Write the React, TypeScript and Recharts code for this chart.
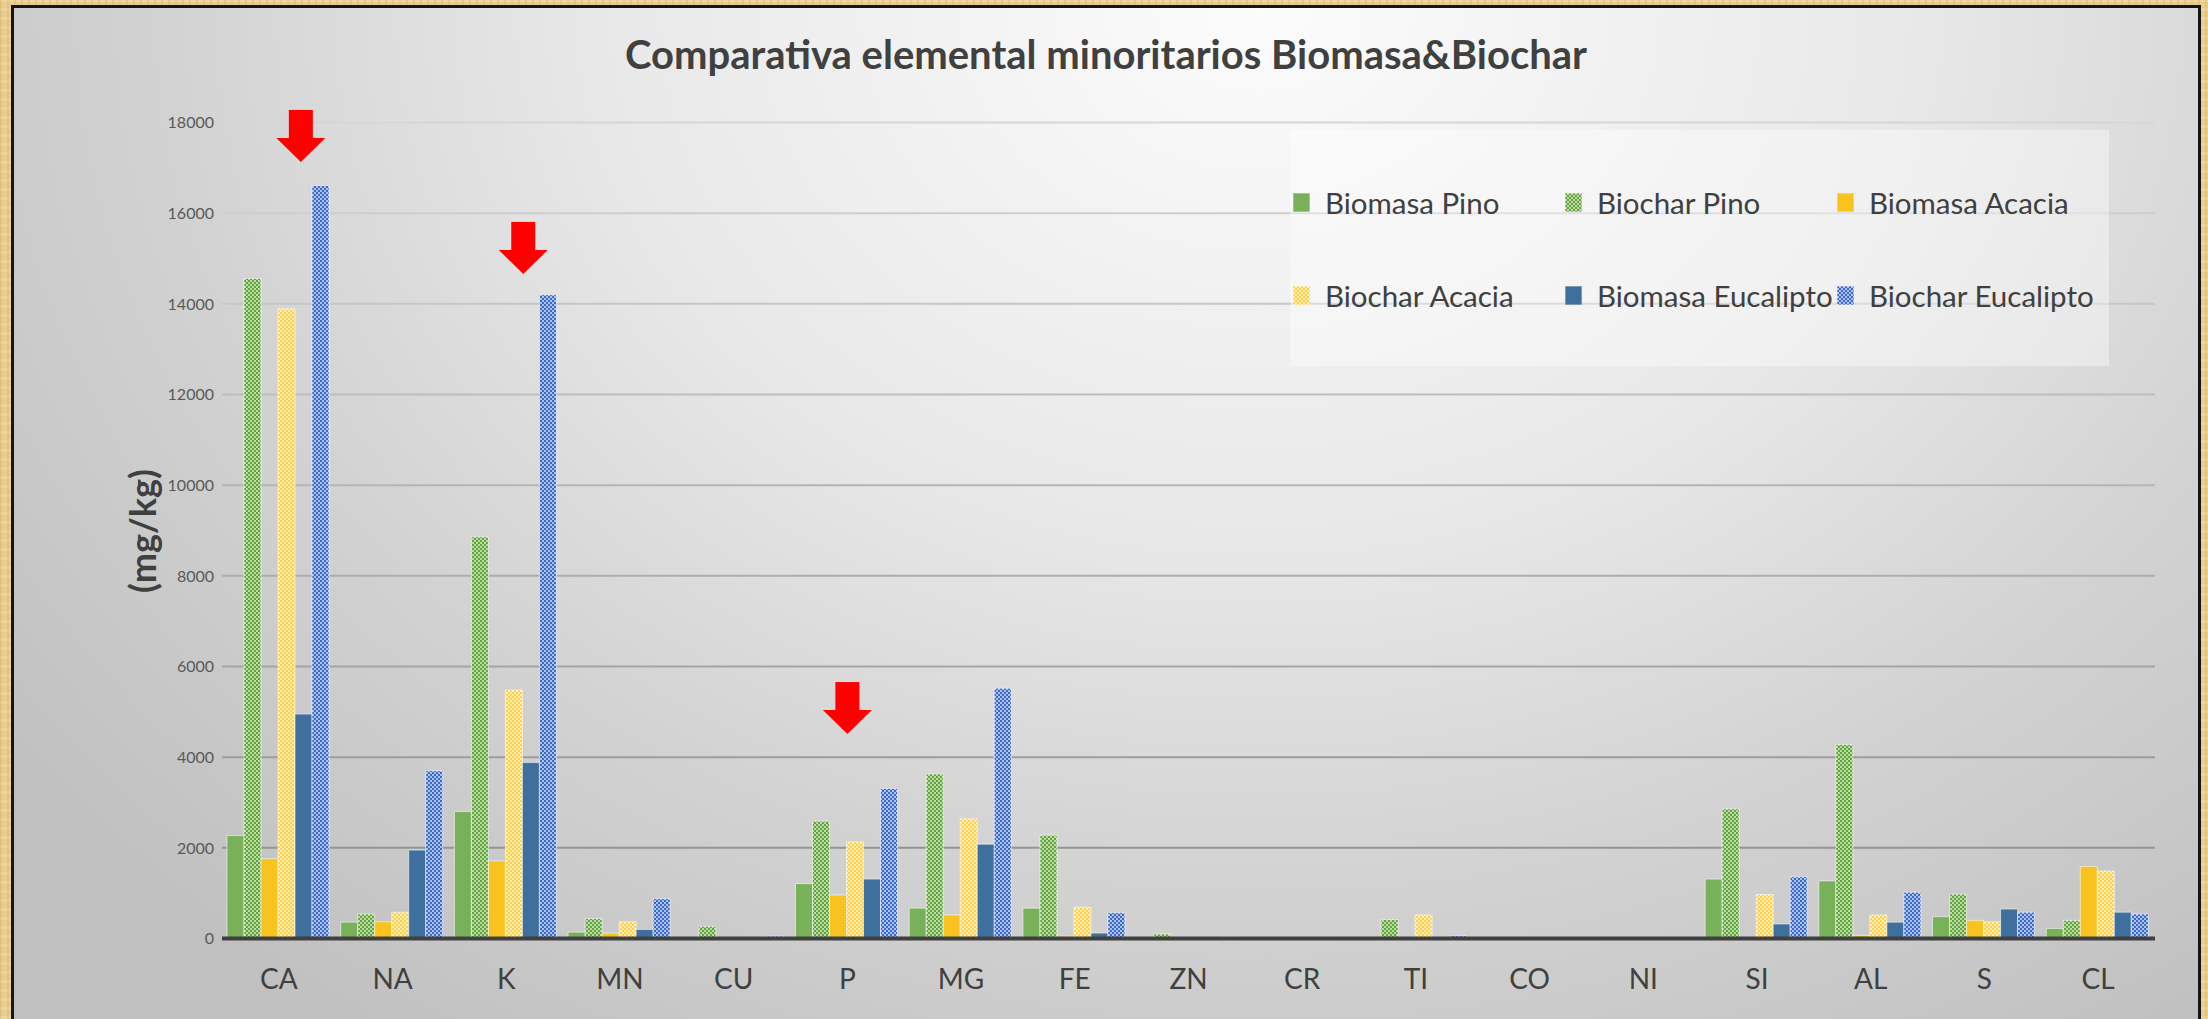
import React from 'react';
import { BarChart, Bar, XAxis, YAxis, CartesianGrid, Legend, ReferenceDot } from 'recharts';

// elements on the x axis
const categories = ['CA', 'NA', 'K', 'MN', 'CU', 'P', 'MG', 'FE', 'ZN', 'CR', 'TI', 'CO', 'NI', 'SI', 'AL', 'S', 'CL'];

// mg/kg per element
const biomasaPino = [2270, 360, 2800, 140, 10, 1210, 670, 670, 10, 5, 10, 0, 0, 1310, 1270, 480, 220];
const biocharPino = [14560, 540, 8860, 440, 270, 2590, 3630, 2280, 100, 10, 420, 5, 5, 2860, 4280, 980, 400];
const biomasaAcacia = [1760, 370, 1710, 120, 5, 960, 520, 50, 5, 0, 5, 0, 0, 5, 70, 400, 1590];
const biocharAcacia = [13890, 580, 5480, 370, 10, 2130, 2640, 690, 20, 5, 520, 5, 5, 970, 520, 370, 1490];
const biomasaEucalipto = [4950, 1950, 3880, 200, 10, 1310, 2080, 120, 10, 5, 10, 0, 0, 320, 360, 650, 580];
const biocharEucalipto = [16610, 3700, 14200, 880, 50, 3310, 5520, 570, 40, 10, 60, 5, 5, 1360, 1020, 580, 540];

const yTicks = [0, 2000, 4000, 6000, 8000, 10000, 12000, 14000, 16000, 18000];

// red arrows pointing at the highlighted elements
const arrowCategories = ['CA', 'K', 'P'];
const arrowTips = [17130, 14660, 4510];
const arrowShift = [22, 17, 0];

const FONT = 'Lato, Calibri, "Open Sans", sans-serif';

const SERIES = [
  { key: 'biomasaPino', name: 'Biomasa Pino', fill: '#78B159' },
  { key: 'biocharPino', name: 'Biochar Pino', fill: 'url(#patPino)' },
  { key: 'biomasaAcacia', name: 'Biomasa Acacia', fill: '#F8C21F' },
  { key: 'biocharAcacia', name: 'Biochar Acacia', fill: 'url(#patAcacia)' },
  { key: 'biomasaEucalipto', name: 'Biomasa Eucalipto', fill: '#3F6F9C' },
  { key: 'biocharEucalipto', name: 'Biochar Eucalipto', fill: 'url(#patEucalipto)' },
];

const data = categories.map((name, i) => ({
  name,
  biomasaPino: biomasaPino[i],
  biocharPino: biocharPino[i],
  biomasaAcacia: biomasaAcacia[i],
  biocharAcacia: biocharAcacia[i],
  biomasaEucalipto: biomasaEucalipto[i],
  biocharEucalipto: biocharEucalipto[i],
}));

const checker = (id: string, color: string, light: string) => (
  <pattern id={id} width="4" height="4" patternUnits="userSpaceOnUse">
    <rect width="4" height="4" fill={light} />
    <rect width="2" height="2" fill={color} />
    <rect x="2" y="2" width="2" height="2" fill={color} />
  </pattern>
);

const makeArrow = (dx: number) => (props: any) => {
  const x = props.cx + dx;
  const y = props.cy;
  return (
    <g>
      <rect x={x - 12} y={y - 52} width={24} height={29} fill="#FF0000" />
      <polygon points={`${x - 24.5},${y - 24} ${x + 24.5},${y - 24} ${x},${y}`} fill="#FF0000" />
    </g>
  );
};

const LegendBox = () => {
  const cols = [3, 275, 547];
  const rows = [72, 165];
  return (
    <div style={{ position: 'relative', width: 819, height: 236, background: 'rgba(255,255,255,0.38)' }}>
      {SERIES.map((s, i) => (
        <div
          key={s.key}
          style={{
            position: 'absolute',
            left: cols[i % 3],
            top: rows[Math.floor(i / 3)] - 20,
            height: 40,
            display: 'flex',
            alignItems: 'center',
          }}
        >
          <svg width={17} height={19} style={{ marginRight: 15 }}>
            <rect x={0} y={0} width={17} height={19} fill={s.fill} stroke="rgba(255,255,255,0.6)" />
          </svg>
          <span style={{ fontFamily: FONT, fontSize: 29.5, color: '#404040', whiteSpace: 'nowrap' }}>{s.name}</span>
        </div>
      ))}
    </div>
  );
};

export default function App() {
  return (
    <div
      style={{
        position: 'absolute',
        left: 0,
        top: 0,
        width: 2208,
        height: 1019,
        overflow: 'hidden',
        background:
          'repeating-linear-gradient(90deg, rgba(190,150,70,0.18) 0px, rgba(190,150,70,0.18) 2px, transparent 2px, transparent 7px), repeating-linear-gradient(0deg, rgba(255,240,200,0.25) 0px, rgba(255,240,200,0.25) 3px, transparent 3px, transparent 9px), #E8CD8C',
      }}
    >
      <div
        style={{
          position: 'absolute',
          left: 11,
          top: 5,
          width: 2190,
          height: 1100,
          boxSizing: 'border-box',
          border: '3px solid #151515',
          background: 'radial-gradient(ellipse 72% 115% at 57% 0%, #fcfcfc 0%, #e8e8e8 42%, #d2d2d2 70%, #c0c0c0 100%)',
        }}
      />
      <div
        style={{
          position: 'absolute',
          left: 11,
          width: 2190,
          top: 30,
          textAlign: 'center',
          fontFamily: FONT,
          fontWeight: 700,
          fontSize: 40,
          color: '#404040',
        }}
      >
        Comparativa elemental minoritarios Biomasa&amp;Biochar
      </div>
      <div
        style={{
          position: 'absolute',
          left: 142 - 100,
          top: 531 - 22,
          width: 200,
          height: 44,
          lineHeight: '44px',
          textAlign: 'center',
          transform: 'rotate(-90deg)',
          fontFamily: FONT,
          fontWeight: 700,
          fontSize: 36,
          color: '#404040',
        }}
      >
        (mg/kg)
      </div>
      <div style={{ position: 'absolute', left: 0, top: 0 }}>
        <BarChart
          width={2208}
          height={1019}
          data={data}
          margin={{ top: 122.5, right: 53, left: 162, bottom: 20.5 }}
          barCategoryGap={5}
          barGap={0}
        >
          <defs>
            {checker('patPino', '#62A33D', '#bcdca6')}
            {checker('patAcacia', '#FFCF45', '#ffeeb5')}
            {checker('patEucalipto', '#3A68C8', '#adc3ee')}
            <linearGradient id="gridGrad" gradientUnits="userSpaceOnUse" x1="0" y1="122" x2="0" y2="940">
              <stop offset="0%" stopColor="#d6d6d6" />
              <stop offset="100%" stopColor="#8c8c8c" />
            </linearGradient>
          </defs>
          <CartesianGrid vertical={false} stroke="url(#gridGrad)" strokeWidth={2} />
          <XAxis
            dataKey="name"
            height={60}
            tickLine={false}
            axisLine={{ stroke: '#404040', strokeWidth: 4 }}
            tickMargin={25}
            tick={{ fill: '#404040', fontSize: 28, fontFamily: FONT }}
            interval={0}
          />
          <YAxis
            width={60}
            domain={[0, 18000]}
            ticks={yTicks}
            tickLine={false}
            axisLine={false}
            tick={{ fill: '#595959', fontSize: 16, fontFamily: FONT }}
          />
          <Legend
            layout="horizontal"
            verticalAlign="middle"
            align="center"
            wrapperStyle={{ left: 1290, top: 130, width: 819, height: 236 }}
            content={() => <LegendBox />}
          />
          {SERIES.map((s) => (
            <Bar
              key={s.key}
              dataKey={s.key}
              name={s.name}
              fill={s.fill}
              stroke="rgba(255,255,255,0.55)"
              strokeWidth={1}
              isAnimationActive={false}
            />
          ))}
          {arrowCategories.map((c, i) => (
            <ReferenceDot
              key={c}
              x={c}
              y={arrowTips[i]}
              r={0}
              ifOverflow="visible"
              shape={makeArrow(arrowShift[i])}
            />
          ))}
        </BarChart>
      </div>
    </div>
  );
}
